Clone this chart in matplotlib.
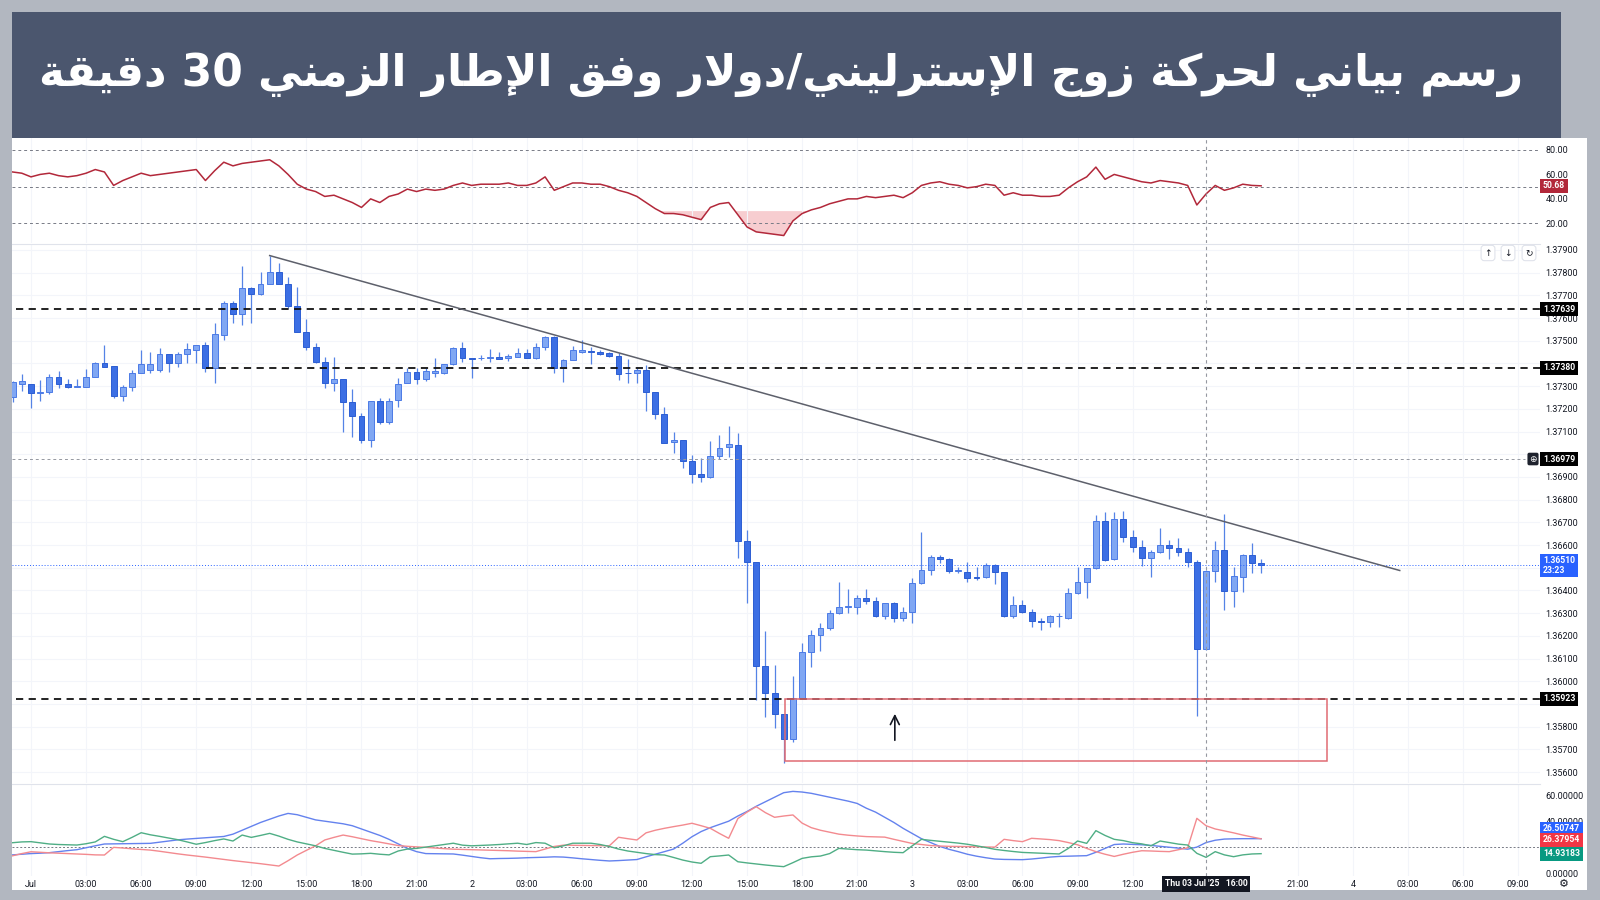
"""GBP/USD 30-minute chart in TradingView style: candles with support lines,
a falling trendline and a demand zone, an RSI pane above and a DMI pane below,
under a dark band carrying the Arabic title. Values were read off the screenshot.
"""
import re

import numpy as np
import matplotlib

matplotlib.use("Agg")
import matplotlib.pyplot as plt
from matplotlib.patches import Rectangle

plt.rcParams["font.family"] = ["Roboto", "DejaVu Sans"]

W, H = 1600, 900
FRAME = "#b2b7c0"
BAND = "#4b566e"
GRID = "#f3f5fa"
SEP = "#e0e3eb"
TXT = "#131722"
UP_FILL, UP_EDGE = "#80a7f3", "#4c7be6"
DN_FILL, DN_EDGE = "#3c6fe4", "#2c5ed3"
WICK = "#5583e6"

TITLE = "رسم بياني لحركة زوج الإسترليني/دولار وفق الإطار الزمني 30 دقيقة"

# one entry per 30-minute bar, bar 0 = 1 Jul 00:00, first bar = -2
BARS = list(range(-2, 135))
OPEN = [1.37254, 1.37310, 1.37310, 1.37269, 1.37276, 1.37342, 1.37310, 1.37295, 1.37298, 1.37342,
        1.37401, 1.37389, 1.37258, 1.37295, 1.37360, 1.37371, 1.37371, 1.37442, 1.37401, 1.37442,
        1.37460, 1.37482, 1.37382, 1.37526, 1.37668, 1.37617, 1.37731, 1.37706, 1.37749, 1.37802,
        1.37750, 1.37655, 1.37537, 1.37474, 1.37408, 1.37315, 1.37332, 1.37229, 1.37170, 1.37063,
        1.37236, 1.37144, 1.37239, 1.37313, 1.37361, 1.37330, 1.37357, 1.37357, 1.37397, 1.37470,
        1.37423, 1.37423, 1.37423, 1.37427, 1.37423, 1.37430, 1.37445, 1.37426, 1.37474, 1.37515,
        1.37379, 1.37415, 1.37452, 1.37456, 1.37452, 1.37448, 1.37433, 1.37360, 1.37357, 1.37371,
        1.37273, 1.37176, 1.37054, 1.37063, 1.36972, 1.36912, 1.36899, 1.36993, 1.37031, 1.37041,
        1.36618, 1.36527, 1.36069, 1.35947, 1.35856, 1.35746, 1.35928, 1.36128, 1.36204, 1.36234,
        1.36302, 1.36326, 1.36326, 1.36366, 1.36355, 1.36288, 1.36346, 1.36278, 1.36307, 1.36432,
        1.36490, 1.36549, 1.36539, 1.36487, 1.36483, 1.36461, 1.36461, 1.36512, 1.36483, 1.36288,
        1.36336, 1.36307, 1.36267, 1.36260, 1.36286, 1.36278, 1.36388, 1.36439, 1.36498, 1.36706,
        1.36539, 1.36714, 1.36637, 1.36593, 1.36542, 1.36571, 1.36601, 1.36586, 1.36568, 1.36524,
        1.36141, 1.36486, 1.36578, 1.36399, 1.36458, 1.36556, 1.36523]
HIGH = [1.37323, 1.37352, 1.37310, 1.37327, 1.37352, 1.37367, 1.37330, 1.37330, 1.37374, 1.37408,
        1.37480, 1.37389, 1.37305, 1.37371, 1.37459, 1.37449, 1.37467, 1.37442, 1.37452, 1.37489,
        1.37482, 1.37496, 1.37577, 1.37675, 1.37675, 1.37830, 1.37738, 1.37804, 1.37875, 1.37841,
        1.37782, 1.37738, 1.37596, 1.37489, 1.37430, 1.37430, 1.37332, 1.37288, 1.37181, 1.37236,
        1.37247, 1.37247, 1.37335, 1.37379, 1.37379, 1.37379, 1.37423, 1.37397, 1.37474, 1.37496,
        1.37425, 1.37437, 1.37463, 1.37452, 1.37441, 1.37467, 1.37463, 1.37489, 1.37521, 1.37521,
        1.37419, 1.37478, 1.37504, 1.37474, 1.37460, 1.37452, 1.37445, 1.37419, 1.37386, 1.37393,
        1.37273, 1.37207, 1.37100, 1.37063, 1.36997, 1.36982, 1.37060, 1.37085, 1.37125, 1.37093,
        1.36667, 1.36527, 1.36223, 1.36072, 1.35856, 1.36023, 1.36170, 1.36226, 1.36258, 1.36314,
        1.36439, 1.36405, 1.36380, 1.36405, 1.36373, 1.36346, 1.36351, 1.36329, 1.36456, 1.36659,
        1.36556, 1.36556, 1.36542, 1.36505, 1.36527, 1.36505, 1.36520, 1.36517, 1.36483, 1.36376,
        1.36358, 1.36317, 1.36278, 1.36292, 1.36300, 1.36410, 1.36504, 1.36498, 1.36733, 1.36747,
        1.36747, 1.36750, 1.36667, 1.36623, 1.36578, 1.36674, 1.36623, 1.36630, 1.36586, 1.36534,
        1.36490, 1.36618, 1.36737, 1.36505, 1.36561, 1.36608, 1.36538]
LOW = [1.37232, 1.37280, 1.37203, 1.37235, 1.37266, 1.37291, 1.37291, 1.37295, 1.37298, 1.37342,
       1.37386, 1.37247, 1.37235, 1.37280, 1.37360, 1.37360, 1.37364, 1.37361, 1.37386, 1.37401,
       1.37401, 1.37364, 1.37315, 1.37504, 1.37577, 1.37570, 1.37580, 1.37702, 1.37749, 1.37749,
       1.37643, 1.37537, 1.37460, 1.37401, 1.37291, 1.37280, 1.37100, 1.37078, 1.37051, 1.37031,
       1.37132, 1.37132, 1.37207, 1.37313, 1.37310, 1.37323, 1.37342, 1.37354, 1.37393, 1.37408,
       1.37335, 1.37415, 1.37408, 1.37419, 1.37411, 1.37427, 1.37423, 1.37419, 1.37460, 1.37360,
       1.37320, 1.37415, 1.37445, 1.37398, 1.37437, 1.37430, 1.37327, 1.37315, 1.37315, 1.37191,
       1.37154, 1.37051, 1.37004, 1.36938, 1.36875, 1.36879, 1.36896, 1.36978, 1.36989, 1.36542,
       1.36344, 1.35918, 1.35844, 1.35793, 1.35640, 1.35734, 1.35928, 1.36064, 1.36135, 1.36226,
       1.36297, 1.36300, 1.36297, 1.36341, 1.36285, 1.36273, 1.36263, 1.36267, 1.36256, 1.36429,
       1.36468, 1.36520, 1.36476, 1.36476, 1.36439, 1.36446, 1.36454, 1.36429, 1.36285, 1.36278,
       1.36300, 1.36241, 1.36226, 1.36241, 1.36241, 1.36273, 1.36385, 1.36366, 1.36493, 1.36530,
       1.36534, 1.36615, 1.36571, 1.36508, 1.36458, 1.36567, 1.36539, 1.36552, 1.36505, 1.35847,
       1.36138, 1.36439, 1.36314, 1.36326, 1.36395, 1.36476, 1.36476]
CLOSE = [1.37320, 1.37323, 1.37269, 1.37276, 1.37342, 1.37310, 1.37295, 1.37301, 1.37342, 1.37404,
         1.37386, 1.37257, 1.37295, 1.37360, 1.37397, 1.37397, 1.37442, 1.37401, 1.37442, 1.37463,
         1.37482, 1.37382, 1.37529, 1.37668, 1.37617, 1.37731, 1.37706, 1.37750, 1.37802, 1.37749,
         1.37653, 1.37537, 1.37471, 1.37408, 1.37315, 1.37332, 1.37229, 1.37170, 1.37063, 1.37236,
         1.37144, 1.37236, 1.37310, 1.37361, 1.37330, 1.37368, 1.37368, 1.37397, 1.37470, 1.37423,
         1.37420, 1.37426, 1.37430, 1.37421, 1.37433, 1.37445, 1.37426, 1.37474, 1.37515, 1.37379,
         1.37415, 1.37460, 1.37460, 1.37451, 1.37442, 1.37433, 1.37354, 1.37357, 1.37371, 1.37273,
         1.37176, 1.37051, 1.37063, 1.36972, 1.36912, 1.36899, 1.36993, 1.37029, 1.37044, 1.36618,
         1.36527, 1.36069, 1.35947, 1.35856, 1.35746, 1.35928, 1.36128, 1.36204, 1.36234, 1.36302,
         1.36326, 1.36330, 1.36366, 1.36355, 1.36288, 1.36346, 1.36278, 1.36307, 1.36432, 1.36490,
         1.36549, 1.36539, 1.36486, 1.36490, 1.36454, 1.36454, 1.36512, 1.36483, 1.36288, 1.36336,
         1.36307, 1.36266, 1.36260, 1.36288, 1.36288, 1.36388, 1.36439, 1.36498, 1.36706, 1.36534,
         1.36714, 1.36637, 1.36593, 1.36542, 1.36571, 1.36601, 1.36586, 1.36568, 1.36524, 1.36141,
         1.36486, 1.36578, 1.36399, 1.36464, 1.36556, 1.36523, 1.36510]

RSI = [62, 61, 58, 60, 61, 59, 58, 59, 61, 64, 62, 51, 55, 58, 61, 59, 60, 61, 62, 63,
       64, 55, 63, 70, 67, 69, 70, 71, 72, 67, 60, 52, 48, 46, 42, 43, 40, 37, 33, 40,
       37, 42, 44, 48, 46, 48, 47, 48, 51, 53, 51, 52, 52, 52, 53, 51, 51, 53, 58, 47,
       50, 53, 53, 52, 52, 50, 47, 45, 42, 37, 32, 28, 28, 27, 25, 23, 33, 36, 37, 27,
       17, 13, 12, 11, 10, 22, 28, 31, 33, 36, 38, 40, 40, 42, 41, 42, 43, 41, 45, 51,
       53, 54, 52, 51, 49, 50, 52, 51, 43, 45, 43, 43, 42, 42, 43, 49, 54, 58, 66, 56,
       60, 58, 56, 54, 53, 55, 54, 53, 51, 35, 44, 51, 47, 49, 52, 51, 50.68]

ADX = [14, 14.5, 15, 15.3, 15.7, 16.5, 17.3, 18, 19.5, 21, 22.4, 22.5, 22.6, 22.7, 22.8, 22.9,
       23.8, 24.7, 25.6, 26.2, 26.7, 27.2, 27.7, 28.2, 30, 33, 36, 39, 41.5, 44, 46, 45, 43, 41,
       40, 39, 38, 36.5, 34, 31.5, 29, 26, 22.5, 19, 16.5, 15, 14.9, 14.8, 14.7, 13.8, 12.8, 11.8,
       11, 11.2, 11.3, 11.5, 11.8, 12, 12.2, 12.5, 12.3, 11.7, 11, 10.4, 9.8, 9.3, 9.6, 10, 10.4,
       12.5, 14.5, 16.5, 18.5, 23, 28, 32, 35, 37.5, 40, 44, 47.5, 51.5, 55, 58.5, 62, 63, 62.5,
       61.5, 60, 58.5, 57, 55.5, 53.7, 50, 47, 43, 39, 34.5, 30.5, 26.5, 23.5, 20.5, 18.3, 16.5,
       14.5, 13, 11.8, 10.8, 10.5, 10.4, 10.3, 10.8, 11.5, 12.3, 12.8, 13, 13.2, 13.4, 16, 19,
       22, 22.4, 22.1, 21.8, 21.3, 20.6, 19.9, 19.2, 18.4, 20, 23.5, 25.3, 26.2, 26.4, 26.5,
       26.5, 26.50747]
MINUS_DI = [13.3, 15, 16.4, 16, 15.6, 15.3, 15, 14.7, 14.4, 14, 13.9, 19.8, 19.3, 18.7, 18.2,
            17.7, 16.8, 15.8, 14.8, 13.9, 13.1, 12.3, 11.4, 10.5, 9.6, 8.8, 8, 7.2, 6.3, 5.4,
            9.5, 13.9, 17.5, 21, 25.5, 27.5, 29.3, 28, 26.5, 25, 23.8, 22.5, 21.2, 20.6, 20.2,
            19.8, 19.3, 18.8, 18.4, 18.2, 18, 17.8, 17.6, 17.4, 17.2, 16.9, 16.7, 16.5, 18.5,
            20.5, 21.5, 21.4, 21.3, 21.2, 21.1, 21, 27.6, 26.5, 25.5, 31, 33, 34.5, 35.8, 37,
            38.4, 36.5, 34.5, 30.5, 26.8, 42, 47, 51.2, 46.6, 43, 44, 44.8, 38.5, 35, 33, 31.5,
            30, 29.2, 28.6, 28.1, 27.9, 27.7, 26, 24.4, 22.8, 22, 21.2, 20.8, 20.6, 20.5, 20.4,
            20.2, 20.1, 20, 26, 25, 24.2, 26.8, 26.3, 25.8, 25, 23.5, 21.8, 19, 16.5, 14.5,
            12.8, 14.5, 16, 17.2, 17, 16.7, 16.5, 18, 19.5, 42.2, 36.5, 34, 32.5, 31, 29.3,
            27.8, 26.37954]
PLUS_DI = [23.4, 24, 24.2, 23.3, 22.4, 22, 21.8, 21.6, 22.6, 24, 28.3, 26, 24.2, 27.5, 31.1,
           29.5, 28.3, 27, 25.7, 24, 22.2, 23.5, 25, 26.3, 24.7, 29.3, 27.5, 29, 30.6, 28.5,
           26, 24, 22.5, 21, 19, 17.5, 16, 14.6, 14.8, 15.2, 14.5, 14, 17, 18.5, 19, 20, 21,
           22, 23, 21.5, 21, 21.3, 21.6, 22, 22.5, 23, 22, 23.5, 23, 19.5, 21, 23, 23, 23, 22,
           20.5, 18.5, 17, 16, 15, 14.2, 13.9, 12, 10, 8.5, 7.5, 12.6, 13.2, 13.9, 8.7, 7.8, 7,
           6.2, 5.5, 4.9, 8, 11.3, 12.5, 13.1, 15, 19, 18.5, 18, 17.7, 17.1, 16.5, 16, 15.7, 21,
           26, 25.2, 24.5, 23.8, 23.1, 22.2, 21, 19.7, 18.3, 17.4, 16.6, 15.9, 15.6, 15.3, 15,
           14.7, 19, 24.7, 22.9, 32.7, 29, 26, 25, 23.4, 22.5, 21, 24.7, 23.5, 22.3, 21.6, 15.2,
           12.1, 16.5, 14, 12.6, 14, 14.7, 14.93183]

LEVELS_BLACK = [1.37639, 1.37380, 1.35923]
LEVEL_STARTS = [-1.6, 19.1, -1.6]          # bar where each dashed level begins
LEVEL_GREY = 1.36979
LAST_PRICE = 1.36510
COUNTDOWN = "23:23"
LAST_RSI = 50.68
TREND = [(26, 1.37875), (149.1, 1.36488)]
ZONE = (82.1, 141.2, 1.35649, 1.35923)     # bar from, bar to, price low, price high
ARROW = (94.1, 1.35728, 1.35869)
CROSS_BAR = 128
CROSS_LABEL = "Thu 03 Jul '25   16:00"

PRICE_TICKS = [1.37900, 1.37800, 1.37700, 1.37600, 1.37500, 1.37400, 1.37300, 1.37200,
               1.37100, 1.37000, 1.36900, 1.36800, 1.36700, 1.36600, 1.36500, 1.36400,
               1.36300, 1.36200, 1.36100, 1.36000, 1.35900, 1.35800, 1.35700, 1.35600]
PRICE_HIDDEN = [1.37400, 1.37000, 1.36500, 1.35900]   # covered by the level labels
RSI_TICKS = [80, 60, 40, 20]
DMI_TICKS = [60, 40, 20, 0]
DMI_HIDDEN = [20]
TIME_TICKS = [0, 6, 12, 18, 24, 30, 36, 42, 48, 54, 60, 66, 72, 78, 84, 90, 96, 102,
              108, 114, 120, 138, 144, 150, 156, 162]
TIME_LABELS = ["Jul", "03:00", "06:00", "09:00", "12:00", "15:00", "18:00", "21:00", "2",
               "03:00", "06:00", "09:00", "12:00", "15:00", "18:00", "21:00", "3", "03:00",
               "06:00", "09:00", "12:00", "21:00", "4", "03:00", "06:00", "09:00"]

# Arabic presentation forms: isolated, final, initial, medial (None = no join to the left)
_FORMS = {
    "ا": ("\uFE8D", "\uFE8E", None, None), "إ": ("\uFE87", "\uFE88", None, None),
    "ب": ("\uFE8F", "\uFE90", "\uFE91", "\uFE92"), "ة": ("\uFE93", "\uFE94", None, None),
    "ت": ("\uFE95", "\uFE96", "\uFE97", "\uFE98"), "ج": ("\uFE9D", "\uFE9E", "\uFE9F", "\uFEA0"),
    "ح": ("\uFEA1", "\uFEA2", "\uFEA3", "\uFEA4"), "د": ("\uFEA9", "\uFEAA", None, None),
    "ر": ("\uFEAD", "\uFEAE", None, None), "ز": ("\uFEAF", "\uFEB0", None, None),
    "س": ("\uFEB1", "\uFEB2", "\uFEB3", "\uFEB4"), "ط": ("\uFEC1", "\uFEC2", "\uFEC3", "\uFEC4"),
    "ف": ("\uFED1", "\uFED2", "\uFED3", "\uFED4"), "ق": ("\uFED5", "\uFED6", "\uFED7", "\uFED8"),
    "ك": ("\uFED9", "\uFEDA", "\uFEDB", "\uFEDC"), "ل": ("\uFEDD", "\uFEDE", "\uFEDF", "\uFEE0"),
    "م": ("\uFEE1", "\uFEE2", "\uFEE3", "\uFEE4"), "ن": ("\uFEE5", "\uFEE6", "\uFEE7", "\uFEE8"),
    "و": ("\uFEED", "\uFEEE", None, None), "ي": ("\uFEF1", "\uFEF2", "\uFEF3", "\uFEF4"),
    "\uFEFB": ("\uFEFB", "\uFEFC", None, None), "\uFEF9": ("\uFEF9", "\uFEFA", None, None),
}


def shape_arabic(text):
    """Join letters with presentation forms and lay the line out right-to-left
    (matplotlib itself does neither)."""
    text = text.replace("لا", "\uFEFB").replace("لإ", "\uFEF9")
    out = []
    for i, ch in enumerate(text):
        forms = _FORMS.get(ch)
        if forms is None:
            out.append(ch)
            continue
        prev = text[i - 1] if i > 0 else ""
        nxt = text[i + 1] if i + 1 < len(text) else ""
        join_prev = prev in _FORMS and _FORMS[prev][2] is not None
        join_next = forms[2] is not None and nxt in _FORMS
        if join_prev and join_next:
            out.append(forms[3])
        elif join_prev:
            out.append(forms[1])
        elif join_next:
            out.append(forms[2])
        else:
            out.append(forms[0])
    vis = "".join(reversed(out))
    return re.sub(r"[0-9]+", lambda m: m.group(0)[::-1], vis)


def px_rect(x0, y0, x1, y1):
    return [x0 / W, 1 - y1 / H, (x1 - x0) / W, (y1 - y0) / H]


def style_pane(ax, ylim, ticks, labels, top_line=True):
    ax.set_facecolor("none")
    ax.set_xlim(-2.07, 164.38)
    ax.set_ylim(*ylim)
    ax.set_xticks(TIME_TICKS)
    ax.yaxis.tick_right()
    ax.set_yticks(ticks)
    ax.set_yticklabels(labels)
    ax.tick_params(axis="y", length=0, pad=4, labelsize=6.5, labelcolor=TXT)
    ax.tick_params(axis="x", length=0, labelbottom=False)
    ax.grid(axis="x", color=GRID, lw=0.8)
    for side in ("left", "right", "bottom"):
        ax.spines[side].set_visible(False)
    ax.spines["top"].set_visible(top_line)
    ax.spines["top"].set_color(SEP)
    ax.axvline(CROSS_BAR, color="#9598a1", lw=0.8, ls=(0, (3, 3)), zorder=6)


def scale_box(ax, y, text, fc, dy=0, fs=6.2):
    ax.annotate(text, xy=(1, y), xycoords=ax.get_yaxis_transform(), xytext=(3, dy),
                textcoords="offset pixels", ha="left", va="center", fontsize=fs,
                color="white", fontweight="bold", annotation_clip=False, zorder=10,
                bbox=dict(boxstyle="square,pad=0.3", fc=fc, ec="none"))


fig = plt.figure(figsize=(16, 9), dpi=100)
fig.patch.set_facecolor(FRAME)
fig.add_artist(Rectangle((12 / W, 1 - 890 / H), 1575 / W, 752 / H, transform=fig.transFigure,
                         fc="white", ec="none", zorder=0))
fig.add_artist(Rectangle((12 / W, 1 - 138 / H), 1549 / W, 126 / H, transform=fig.transFigure,
                         fc=BAND, ec="none", zorder=0))
title = fig.text(781 / W, 1 - 75 / H, shape_arabic(TITLE), color="white", fontsize=40,
                 ha="center", va="center", family=["DejaVu Sans"], fontweight="bold")
fig.canvas.draw()
title.set_fontsize(40 * 1484 / title.get_window_extent().width)

ax_rsi = fig.add_axes(px_rect(12, 138, 1540, 243))
ax_px = fig.add_axes(px_rect(12, 244, 1540, 783))
ax_dmi = fig.add_axes(px_rect(12, 784, 1540, 876))

bars = np.array(BARS)

# ---- RSI pane
rsi = np.array(RSI)
style_pane(ax_rsi, (3.9, 89.8), RSI_TICKS, [f"{v:.2f}" for v in RSI_TICKS], top_line=False)
for lvl in (80, 50, 20):
    ax_rsi.axhline(lvl, color="#787b86", lw=0.7, ls=(0, (3, 3)))
ax_rsi.fill_between(bars, rsi, 30, where=rsi < 30, interpolate=True, color="#f5b8bd",
                    alpha=0.7, lw=0)
ax_rsi.plot(bars, rsi, color="#b2283a", lw=1.1)
scale_box(ax_rsi, LAST_RSI, f"{LAST_RSI:.2f}", "#b2283a")

# ---- price pane
style_pane(ax_px, (1.35552, 1.37926), PRICE_TICKS,
           ["" if v in PRICE_HIDDEN else f"{v:.5f}" for v in PRICE_TICKS])
ax_px.grid(axis="y", color=GRID, lw=0.8)
o, h, l, c = (np.array(v) for v in (OPEN, HIGH, LOW, CLOSE))
up = c >= o
body_lo = np.minimum(o, c)
body_h = np.maximum(np.abs(c - o), 0.00002)
ax_px.vlines(bars, l, h, color=WICK, lw=0.9, zorder=2)
ax_px.bar(bars[up], body_h[up], bottom=body_lo[up], width=0.64, color=UP_FILL,
          edgecolor=UP_EDGE, lw=0.7, zorder=3)
ax_px.bar(bars[~up], body_h[~up], bottom=body_lo[~up], width=0.64, color=DN_FILL,
          edgecolor=DN_EDGE, lw=0.7, zorder=3)

for lvl, x0 in zip(LEVELS_BLACK, LEVEL_STARTS):
    ax_px.hlines(lvl, x0, 164.38, color="#111111", lw=1.3, ls=(0, (4, 3)), zorder=4)
    scale_box(ax_px, lvl, f"{lvl:.5f}", "#000000")
ax_px.hlines(LEVEL_GREY, -2.07, 162.7, color="#9598a1", lw=0.7, ls=(0, (3, 3)), zorder=4)
scale_box(ax_px, LEVEL_GREY, f"{LEVEL_GREY:.5f}", "#000000")
ax_px.annotate("⊕", xy=(1, LEVEL_GREY), xycoords=ax_px.get_yaxis_transform(), xytext=(-7, 0),
               textcoords="offset pixels", ha="center", va="center", fontsize=6.5,
               color="white", family=["DejaVu Sans"], annotation_clip=False, zorder=10,
               bbox=dict(boxstyle="round,pad=0.2", fc="#1e222d", ec="none"))
ax_px.axhline(LAST_PRICE, color="#2962ff", lw=0.7, ls=(0, (1, 2)), zorder=4)
ax_px.annotate(f"{LAST_PRICE:.5f}\n{COUNTDOWN}", xy=(1, LAST_PRICE),
               xycoords=ax_px.get_yaxis_transform(), xytext=(3, 0), textcoords="offset pixels",
               ha="left", va="center", fontsize=6.2, color="white", fontweight="bold",
               linespacing=1.1, annotation_clip=False, zorder=10,
               bbox=dict(boxstyle="square,pad=0.3", fc="#2962ff", ec="none"))

(tx0, ty0), (tx1, ty1) = TREND
ax_px.plot([tx0, tx1], [ty0, ty1], color="#5d606b", lw=1.1, zorder=5)
zx0, zx1, zlo, zhi = ZONE
ax_px.add_patch(Rectangle((zx0, zlo), zx1 - zx0, zhi - zlo, fc="none", ec="#e06b73",
                          lw=1.1, zorder=5))
ax_px.annotate("", xy=(ARROW[0], ARROW[2]), xytext=(ARROW[0], ARROW[1]),
               arrowprops=dict(arrowstyle="->", color="#131722", lw=1.2,
                               mutation_scale=16), zorder=6)

for bx, glyph in ((1488, "↑"), (1508, "↓"), (1529, "↻")):
    fig.text(bx / W, 1 - 253 / H, glyph, fontsize=6.5, color="#131722", ha="center",
             va="center", family=["DejaVu Sans"],
             bbox=dict(boxstyle="round,pad=0.35", fc="white", ec=SEP, lw=0.8))

# ---- DMI pane
style_pane(ax_dmi, (-2.3, 68.7), DMI_TICKS,
           ["" if v in DMI_HIDDEN else f"{v:.5f}" for v in DMI_TICKS])
ax_dmi.axhline(20, color="#787b86", lw=0.7, ls=(0, (2, 2)))
ax_dmi.plot(bars, ADX, color="#6482ee", lw=1.0)
ax_dmi.plot(bars, MINUS_DI, color="#f38a8f", lw=1.0)
ax_dmi.plot(bars, PLUS_DI, color="#4fae85", lw=1.0)
scale_box(ax_dmi, ADX[-1], f"{ADX[-1]:.5f}", "#2962ff", dy=10)
scale_box(ax_dmi, MINUS_DI[-1], f"{MINUS_DI[-1]:.5f}", "#f23645", dy=-1)
scale_box(ax_dmi, PLUS_DI[-1], f"{PLUS_DI[-1]:.5f}", "#089981")
ax_dmi.set_xticklabels(TIME_LABELS)
ax_dmi.tick_params(axis="x", labelbottom=True, labelsize=6.5, labelcolor=TXT, pad=3)
ax_dmi.annotate(CROSS_LABEL, xy=(CROSS_BAR, 0), xycoords=ax_dmi.get_xaxis_transform(),
                xytext=(0, -8), textcoords="offset pixels", ha="center", va="center",
                fontsize=6.2, color="white", fontweight="bold", annotation_clip=False,
                zorder=10, bbox=dict(boxstyle="square,pad=0.35", fc="#131722", ec="none"))
fig.text(1564 / W, 1 - 884 / H, "⚙", fontsize=8, color="#131722", ha="center", va="center",
         family=["DejaVu Sans"])

fig.savefig("out.png", dpi=100, facecolor=fig.get_facecolor())
